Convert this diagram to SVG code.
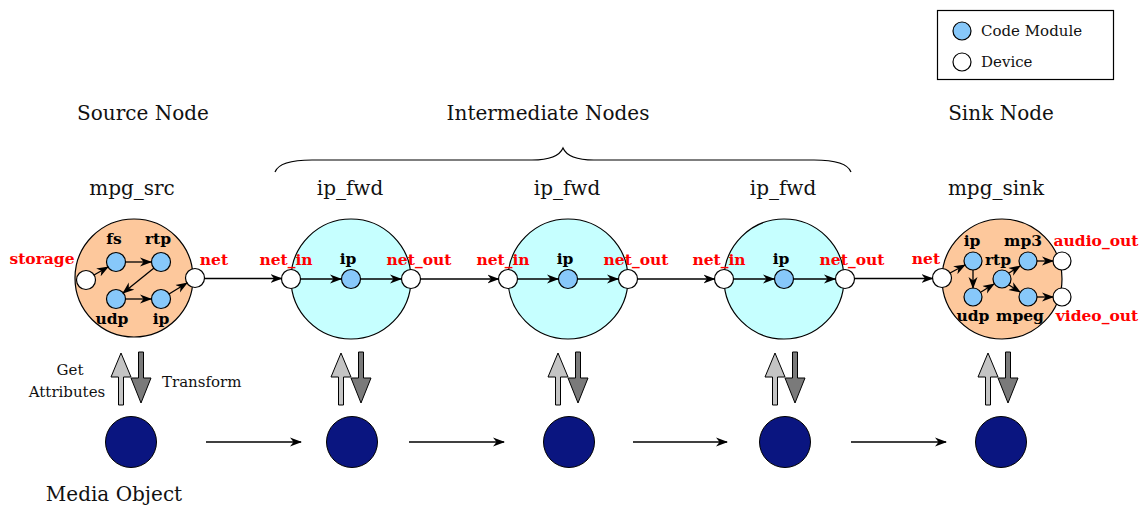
<svg xmlns="http://www.w3.org/2000/svg" width="1140" height="512" viewBox="0 0 1140 512">
<style>
.title{font-family:"DejaVu Serif",serif;font-size:20px;fill:#111;}
.small{font-family:"DejaVu Serif",serif;font-size:15px;fill:#111;}
.red{font-family:"DejaVu Serif",serif;font-weight:bold;font-size:15.5px;fill:#ff0000;}
.blk{font-family:"DejaVu Serif",serif;font-weight:bold;font-size:15.5px;fill:#000;}
.big-src{fill:#fdc89c;stroke:#000;stroke-width:1.2;}
.big-mid{fill:#c6ffff;stroke:#000;stroke-width:1.2;}
.mod{fill:#87c8fa;stroke:#000;stroke-width:1.2;}
.dev{fill:#fff;stroke:#000;stroke-width:1.2;}
.media{fill:#0a1580;stroke:#000;stroke-width:1;}
.ln{stroke:#000;stroke-width:1.3;fill:none;marker-end:url(#ah);}
.up{fill:#c4c4c4;stroke:#000;stroke-width:1;}
.dn{fill:#7a7a7a;stroke:#000;stroke-width:1;}
</style>
<defs>
<marker id="ah" markerWidth="12" markerHeight="10" refX="11" refY="5" orient="auto" markerUnits="userSpaceOnUse">
<path d="M0,0.5 L12,5 L0,9.5 L3.5,5 z" fill="#000"/>
</marker>
<path id="uparr" d="M-2.5,405 L-2.5,377 L-10,377 L0,353 L10,377 L2.5,377 L2.5,405 z"/>
<path id="dnarr" d="M-2.5,352 L2.5,352 L2.5,378 L10,378 L0,403 L-10,378 L-2.5,378 z"/>
</defs>

<!-- headings -->
<g id="headings">
<text class="title" x="143" y="120" text-anchor="middle">Source Node</text>
<text class="title" x="548" y="120" text-anchor="middle">Intermediate Nodes</text>
<text class="title" x="1001" y="120" text-anchor="middle">Sink Node</text>
<path d="M275,172 C278,164 290,160 312,160 L532,160 C552,160 560,155 563,148 C566,155 574,160 594,160 L814,160 C836,160 848,164 851,172" fill="none" stroke="#000" stroke-width="1.2"/>
</g>

<!-- legend -->
<g id="legend">
<rect x="937.5" y="10.5" width="176" height="69" fill="#fff" stroke="#000" stroke-width="1.2"/>
<circle class="mod" cx="962" cy="31" r="9"/>
<text class="small" x="981" y="36">Code Module</text>
<circle class="dev" cx="962" cy="62" r="9"/>
<text class="small" x="981" y="67">Device</text>
</g>

<!-- source node -->
<g id="source">
<text class="title" x="132" y="195" text-anchor="middle">mpg_src</text>
<circle class="big-src" cx="134" cy="278" r="59"/>
<circle class="dev" cx="86" cy="280" r="9.5"/>
<circle class="dev" cx="195" cy="278" r="9.5"/>
<circle class="mod" cx="116" cy="262" r="9.5"/>
<circle class="mod" cx="161" cy="262" r="9.5"/>
<circle class="mod" cx="116" cy="299" r="9.5"/>
<circle class="mod" cx="161" cy="299" r="9.5"/>
<text class="red" x="42" y="264" text-anchor="middle">storage</text>
<text class="red" x="214" y="265" text-anchor="middle">net</text>
<text class="blk" x="114" y="244" text-anchor="middle">fs</text>
<text class="blk" x="158" y="244" text-anchor="middle">rtp</text>
<text class="blk" x="112" y="324" text-anchor="middle">udp</text>
<text class="blk" x="161" y="324" text-anchor="middle">ip</text>
<path class="ln" d="M94,275 L108,267"/>
<path class="ln" d="M126,262 L151,262"/>
<path class="ln" d="M154,268 L123,293"/>
<path class="ln" d="M126,299 L151,299"/>
<path class="ln" d="M169,294 L187,283"/>
</g>

<!-- intermediate nodes -->
<g id="fwd1">
<text class="title" x="350" y="195" text-anchor="middle">ip_fwd</text>
<circle class="big-mid" cx="351" cy="279" r="60"/>
<circle class="dev" cx="291" cy="279" r="9.5"/>
<circle class="mod" cx="351" cy="279" r="9.5"/>
<circle class="dev" cx="411" cy="279" r="9.5"/>
<text class="red" x="286" y="265" text-anchor="middle">net_in</text>
<text class="blk" x="348" y="264" text-anchor="middle">ip</text>
<text class="red" x="419" y="265" text-anchor="middle">net_out</text>
<path class="ln" d="M300.5,279 L341,279"/>
<path class="ln" d="M360.5,279 L401,279"/>
</g>
<g id="fwd2">
<text class="title" x="567" y="195" text-anchor="middle">ip_fwd</text>
<circle class="big-mid" cx="568" cy="279" r="60"/>
<circle class="dev" cx="508" cy="279" r="9.5"/>
<circle class="mod" cx="568" cy="279" r="9.5"/>
<circle class="dev" cx="628" cy="279" r="9.5"/>
<text class="red" x="503" y="265" text-anchor="middle">net_in</text>
<text class="blk" x="565" y="264" text-anchor="middle">ip</text>
<text class="red" x="636" y="265" text-anchor="middle">net_out</text>
<path class="ln" d="M517.5,279 L558,279"/>
<path class="ln" d="M577.5,279 L618,279"/>
</g>
<g id="fwd3">
<text class="title" x="783" y="195" text-anchor="middle">ip_fwd</text>
<circle class="big-mid" cx="784" cy="279" r="60"/>
<circle class="dev" cx="724" cy="279" r="9.5"/>
<circle class="mod" cx="784" cy="279" r="9.5"/>
<circle class="dev" cx="845" cy="279" r="9.5"/>
<text class="red" x="719" y="265" text-anchor="middle">net_in</text>
<text class="blk" x="781" y="264" text-anchor="middle">ip</text>
<text class="red" x="852" y="265" text-anchor="middle">net_out</text>
<path class="ln" d="M733.5,279 L774,279"/>
<path class="ln" d="M793.5,279 L835,279"/>
</g>

<!-- sink node -->
<g id="sink">
<text class="title" x="996" y="195" text-anchor="middle">mpg_sink</text>
<circle class="big-src" cx="1002" cy="279" r="60"/>
<circle class="dev" cx="942" cy="278" r="9.5"/>
<circle class="mod" cx="973" cy="261" r="9"/>
<circle class="mod" cx="973" cy="297" r="9"/>
<circle class="mod" cx="1002" cy="279" r="9"/>
<circle class="mod" cx="1028" cy="261" r="9"/>
<circle class="mod" cx="1028" cy="297" r="9"/>
<circle class="dev" cx="1062" cy="261" r="9"/>
<circle class="dev" cx="1062" cy="297" r="9"/>
<text class="red" x="926" y="264" text-anchor="middle">net</text>
<text class="blk" x="972" y="246" text-anchor="middle">ip</text>
<text class="blk" x="998" y="265" text-anchor="middle">rtp</text>
<text class="blk" x="1023" y="246" text-anchor="middle">mp3</text>
<text class="blk" x="973" y="321" text-anchor="middle">udp</text>
<text class="blk" x="1020" y="321" text-anchor="middle">mpeg</text>
<text class="red" x="1096" y="246" text-anchor="middle">audio_out</text>
<text class="red" x="1097" y="321" text-anchor="middle">video_out</text>
<path class="ln" d="M950,273 L965,265"/>
<path class="ln" d="M973,270 L973,288"/>
<path class="ln" d="M981,292 L994,284"/>
<path class="ln" d="M1009,273 L1020,266"/>
<path class="ln" d="M1009,285 L1020,292"/>
<path class="ln" d="M1037,261 L1053,261"/>
<path class="ln" d="M1037,297 L1053,297"/>
</g>

<!-- media objects -->
<g id="media">
<circle class="media" cx="131" cy="442" r="25.5"/>
<circle class="media" cx="352" cy="442" r="25.5"/>
<circle class="media" cx="569" cy="442" r="25.5"/>
<circle class="media" cx="785" cy="442" r="25.5"/>
<circle class="media" cx="1001" cy="442" r="25.5"/>
<text class="title" x="114" y="501" text-anchor="middle">Media Object</text>
</g>

<!-- attribute arrows -->
<g id="attr-arrows">
<use href="#uparr" class="up" x="121"/>
<use href="#dnarr" class="dn" x="141"/>
<use href="#uparr" class="up" x="341"/>
<use href="#dnarr" class="dn" x="361"/>
<use href="#uparr" class="up" x="558"/>
<use href="#dnarr" class="dn" x="578"/>
<use href="#uparr" class="up" x="775"/>
<use href="#dnarr" class="dn" x="795"/>
<use href="#uparr" class="up" x="988"/>
<use href="#dnarr" class="dn" x="1008"/>
<text class="small" x="70" y="375" text-anchor="middle">Get</text>
<text class="small" x="67" y="397" text-anchor="middle">Attributes</text>
<text class="small" x="162" y="387">Transform</text>
</g>

<!-- connectors -->
<g id="connectors">
<path class="ln" d="M204.5,278.5 L281.5,278.5"/>
<path class="ln" d="M420.5,279 L498.5,279"/>
<path class="ln" d="M637.5,279 L714.5,279"/>
<path class="ln" d="M854.5,278.5 L932.5,278.5"/>
<path class="ln" d="M206,442 L301,442"/>
<path class="ln" d="M409,442 L504,442"/>
<path class="ln" d="M633,442 L727,442"/>
<path class="ln" d="M851,442 L946,442"/>
</g>
</svg>
